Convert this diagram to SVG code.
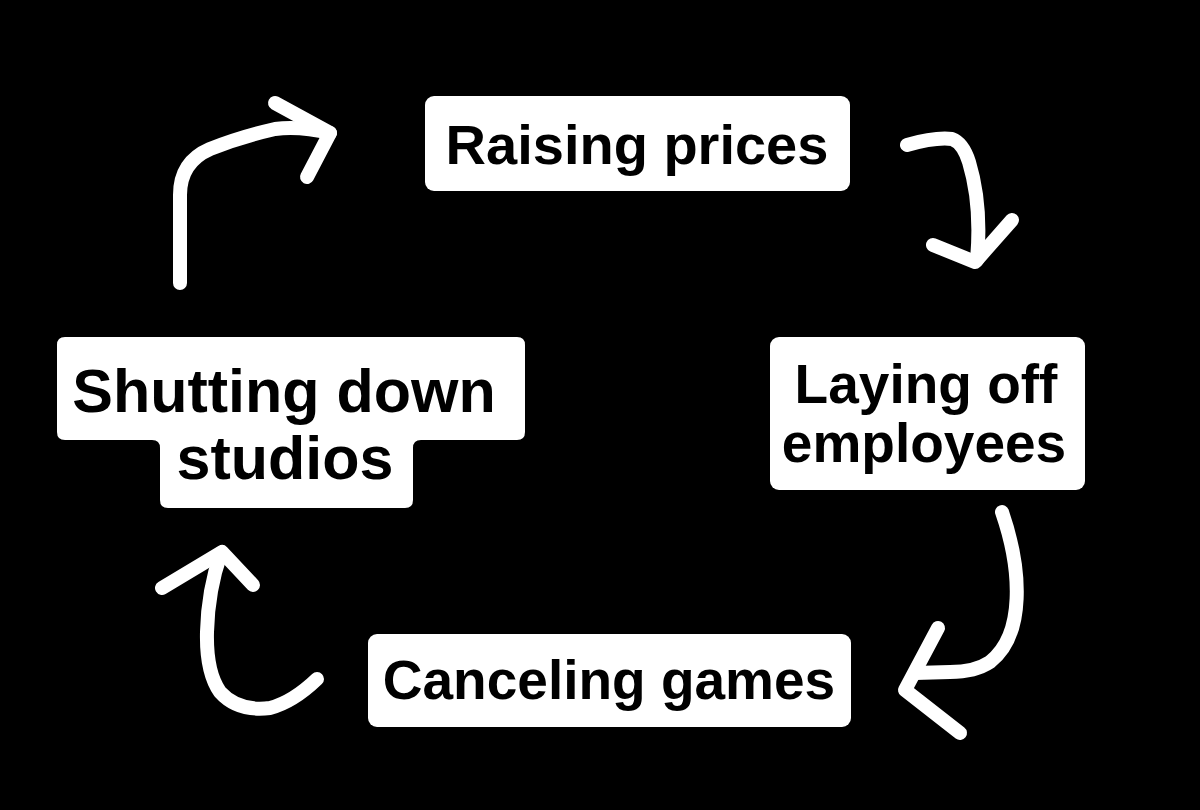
<svg xmlns="http://www.w3.org/2000/svg" width="1200" height="810" viewBox="0 0 1200 810">
  <style>
    .box { fill: #ffffff; }
    .lbl { font-family: "Liberation Sans", Arial, sans-serif; font-weight: bold; fill: #000000; text-anchor: middle; }
    .arrow { fill: none; stroke: #ffffff; stroke-width: 14; stroke-linecap: round; stroke-linejoin: round; }
  </style>
  <rect x="0" y="0" width="1200" height="810" fill="#000000"/>

  <g id="node-raising">
    <rect class="box" x="425" y="96" width="425" height="95" rx="9"/>
    <text class="lbl" x="637" y="164" font-size="56">Raising prices</text>
  </g>

  <g id="node-laying">
    <rect class="box" x="770" y="337" width="315" height="153" rx="9"/>
    <text class="lbl" x="926" y="403" font-size="55">Laying off</text>
    <text class="lbl" x="924" y="462" font-size="55">employees</text>
  </g>

  <g id="node-canceling">
    <rect class="box" x="368" y="634" width="483" height="93" rx="9"/>
    <text class="lbl" x="609" y="699" font-size="55">Canceling games</text>
  </g>

  <g id="node-shutting">
    <path class="box" d="M65,337 H517 Q525,337 525,345 V432 Q525,440 517,440 H421 Q413,440 413,448 V500 Q413,508 405,508 H168 Q160,508 160,500 V448 Q160,440 152,440 H65 Q57,440 57,432 V345 Q57,337 65,337 Z"/>
    <text class="lbl" x="284" y="412" font-size="61">Shutting down</text>
    <text class="lbl" x="285" y="479" font-size="61">studios</text>
  </g>

  <g id="connectors">
    <path class="arrow" d="M180,283 V195 Q180,162 210,149 Q240,137 275,129 Q300,126 330,133"/>
    <path class="arrow" d="M275,103 L330,133 L307,177"/>

    <path class="arrow" d="M907,145 Q935,137 952,139 Q963,143 969,162 Q982,205 977,260"/>
    <path class="arrow" d="M933,245 L975,262 L1012,220"/>

    <path class="arrow" d="M1002,512 C1022,570 1025,635 990,662 Q975,672 950,672 L915,673"/>
    <path class="arrow" d="M938,628 L905,690 L960,733"/>

    <path class="arrow" d="M317,679 Q293,702 270,708 Q238,712 220,692 Q206,672 207,632 Q208,590 221,553"/>
    <path class="arrow" d="M162,588 L222,552 L253,585"/>
  </g>
</svg>
